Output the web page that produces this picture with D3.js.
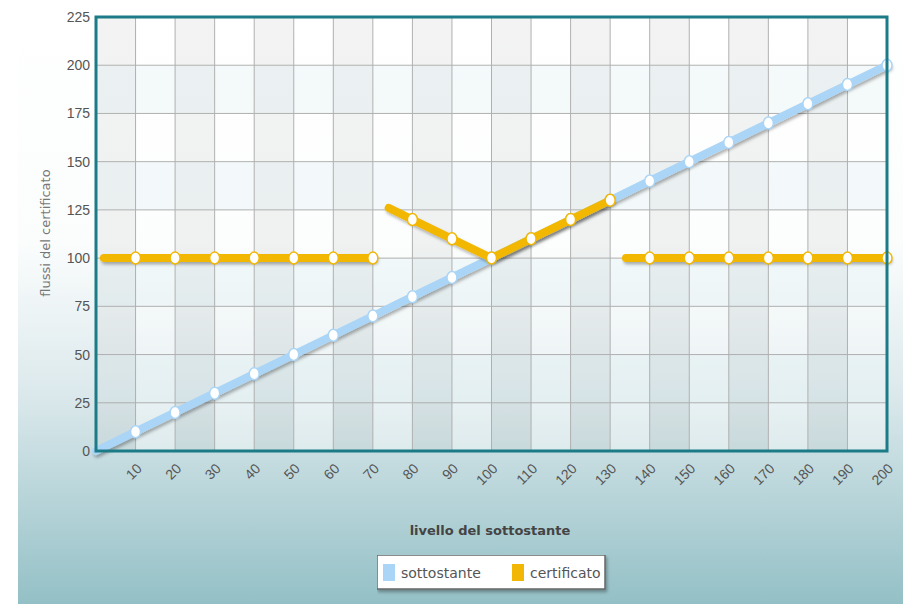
<!DOCTYPE html>
<html>
<head>
<meta charset="utf-8">
<script src="https://cdn.jsdelivr.net/npm/d3@7"></script>
<style>
  body { margin: 0; background: #fff; }
  svg { display: block; font-family: Verdana, "DejaVu Sans", sans-serif; }
</style>
</head>
<body>
<svg></svg>
<script>
let w = 903
let h = 604

// chart data
let xTicks = [10,20,30,40,50,60,70,80,90,100,110,120,130,140,150,160,170,180,190,200]
let yTicks = [0,25,50,75,100,125,150,175,200,225]

let sottostanteX = [0,10,20,30,40,50,60,70,80,90,100,110,120,130,140,150,160,170,180,190,200]
let sottostanteY = [0,10,20,30,40,50,60,70,80,90,100,110,120,130,140,150,160,170,180,190,200]

// certificato is drawn in three separate pieces
let cert1X = [2,10,20,30,40,50,60,70]
let cert1Y = [100,100,100,100,100,100,100,100]
let cert2X = [74,80,90,100,110,120,130]
let cert2Y = [126,120,110,100,110,120,130]
let cert3X = [134,140,150,160,170,180,190,200]
let cert3Y = [100,100,100,100,100,100,100,100]

let seriesNames = ['sottostante','certificato']
let seriesColors = ['#abd5f6','#f2b705']

let pLeft = 96, pRight = 887, pTop = 17, pBottom = 451

let svg = d3.select('svg').attr('width', w).attr('height', h)
let defs = svg.append('defs')

let grad = defs.append('linearGradient').attr('id','bg').attr('x1',0).attr('x2',0).attr('y1',0).attr('y2',1)
grad.append('stop').attr('offset','0%').attr('stop-color','#ffffff')
grad.append('stop').attr('offset','40%').attr('stop-color','#fbfdfd')
grad.append('stop').attr('offset','65%').attr('stop-color','#dce9ec')
grad.append('stop').attr('offset','100%').attr('stop-color','#93c0c6')

// user space filter so flat horizontal lines still get their shadow
let shadow = defs.append('filter').attr('id','shadow').attr('filterUnits','userSpaceOnUse')
   .attr('x',0).attr('y',0).attr('width',w).attr('height',h)
shadow.append('feDropShadow').attr('dx',1.5).attr('dy',2.5).attr('stdDeviation',1.5).attr('flood-color','#000').attr('flood-opacity',0.3)

svg.append('rect').attr('x',18).attr('y',0).attr('width',w-18).attr('height',h).attr('fill','url(#bg)')

let xScale = d3.scaleLinear().domain([0,200]).range([pLeft,pRight])
let yScale = d3.scaleLinear().domain([0,225]).range([pBottom,pTop])

// alternating column shading
let cols = d3.range(0,200,10)
svg.append('g').selectAll('rect').data(cols).enter().append('rect')
   .attr('x', d => xScale(d))
   .attr('y', pTop)
   .attr('width', xScale(10)-xScale(0))
   .attr('height', pBottom-pTop)
   .attr('fill', (d,i) => i%2==0 ? 'rgba(200,200,200,0.22)' : 'rgba(255,255,255,0.4)')

// faint bluish horizontal bands
let rows = [175,125,75,25]
svg.append('g').selectAll('rect').data(rows).enter().append('rect')
   .attr('x', pLeft).attr('y', d => yScale(d+25))
   .attr('width', pRight-pLeft).attr('height', yScale(0)-yScale(25))
   .attr('fill','rgba(215,235,240,0.25)')

// grid
svg.append('g').selectAll('line').data(xTicks.slice(0,-1)).enter().append('line')
   .attr('x1', d => xScale(d)).attr('x2', d => xScale(d))
   .attr('y1', pTop).attr('y2', pBottom)
   .attr('stroke','#b0b0b0').attr('stroke-width',1)
svg.append('g').selectAll('line').data(yTicks.slice(1,-1)).enter().append('line')
   .attr('x1', pLeft).attr('x2', pRight)
   .attr('y1', d => yScale(d)).attr('y2', d => yScale(d))
   .attr('stroke','#b0b0b0').attr('stroke-width',1)

// axes
let yAxis = d3.axisLeft(yScale).tickValues(yTicks).tickSize(0).tickPadding(6)
let gy = svg.append('g').attr('transform','translate(' + pLeft + ',0)').call(yAxis)
gy.select('.domain').remove()
gy.selectAll('text').attr('fill','#555').style('font-size','14px')

let xAxis = d3.axisBottom(xScale).tickValues(xTicks).tickSize(0)
let gx = svg.append('g').attr('transform','translate(0,' + pBottom + ')').call(xAxis)
gx.select('.domain').remove()
gx.selectAll('text')
  .attr('fill','#555').style('font-size','14px')
  .attr('text-anchor','end')
  .attr('dy','0.35em')
  .attr('transform','translate(1,13) rotate(-45)')

// lines
let line = d3.line().x(d => xScale(d[0])).y(d => yScale(d[1]))
let zip = (xs, ys) => xs.map((x,i) => [x, ys[i]])

let drawSeries = (pts, color, markers) => {
  let g = svg.append('g')
  g.append('path').datum(pts).attr('d', line)
   .attr('fill','none').attr('stroke',color).attr('stroke-width',8)
   .attr('stroke-linecap','round').attr('stroke-linejoin','round')
   .attr('filter','url(#shadow)')
  g.selectAll('ellipse').data(markers).enter().append('ellipse')
   .attr('cx', d => xScale(d[0])).attr('cy', d => yScale(d[1]))
   .attr('rx',5).attr('ry',6)
   .attr('fill','#fff').attr('stroke',color).attr('stroke-width',1.5)
}

let sott = zip(sottostanteX, sottostanteY)
drawSeries(sott, seriesColors[0], sott.slice(1))

let c1 = zip(cert1X, cert1Y)
let c2 = zip(cert2X, cert2Y)
let c3 = zip(cert3X, cert3Y)
drawSeries(c1, seriesColors[1], c1.slice(1))
drawSeries(c2, seriesColors[1], c2.slice(1))
drawSeries(c3, seriesColors[1], c3.slice(1))

// plot border
svg.append('rect').attr('x',pLeft).attr('y',pTop).attr('width',pRight-pLeft).attr('height',pBottom-pTop)
   .attr('fill','none').attr('stroke','#1b7b86').attr('stroke-width',3)

// titles
svg.append('text').attr('x',490).attr('y',535).attr('text-anchor','middle')
   .style('font-size','13px').style('font-weight','bold').attr('fill','#444')
   .text('livello del sottostante')
svg.append('text').attr('transform','translate(50,233) rotate(-90)').attr('text-anchor','middle')
   .style('font-size','13px').attr('fill','#777')
   .text('flussi del certificato')

// legend
let lg = svg.append('g').attr('transform','translate(377,555)')
lg.append('rect').attr('width',228).attr('height',34).attr('fill','#fff')
  .attr('stroke','#666').attr('stroke-width',1.5).attr('filter','url(#shadow)')
let lx = [6,135]
seriesNames.forEach((n,i) => {
  lg.append('rect').attr('x',lx[i]).attr('y',9).attr('width',12).attr('height',17).attr('fill',seriesColors[i])
  lg.append('text').attr('x',lx[i]+18).attr('y',23).style('font-size','14px').attr('fill','#555').text(n)
})
</script>
</body>
</html>
